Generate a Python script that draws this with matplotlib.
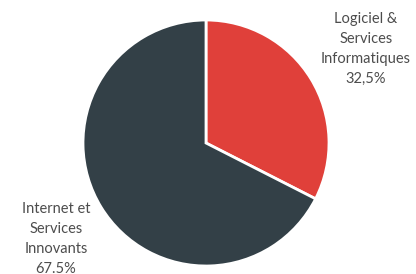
import matplotlib

matplotlib.use("Agg")
import matplotlib.pyplot as plt

labels = ["Logiciel &\nServices\nInformatiques\n32,5%", "Internet et\nServices\nInnovants\n67.5%"]
shares = [32.5, 67.5]
colors = ["#e0403a", "#334047"]

plt.rcParams["font.family"] = ["Lato", "DejaVu Sans"]

fig = plt.figure(figsize=(4.16, 2.74), dpi=100)
ax = fig.add_axes([0, 0, 1, 1])

ax.pie(
    shares,
    colors=colors,
    startangle=90,
    counterclock=False,
    center=(206, 131),
    radius=123,
    wedgeprops={"edgecolor": "white", "linewidth": 2},
    frame=True,
)
ax.set_xlim(0, 416)
ax.set_ylim(0, 274)
ax.set_aspect("equal")
ax.axis("off")

text_color = "#4d4d4d"
ax.text(366, 225, labels[0], ha="center", va="center", fontsize=10.5,
        color=text_color, linespacing=1.55)
ax.text(56, 35, labels[1], ha="center", va="center", fontsize=10.5,
        color=text_color, linespacing=1.55)

fig.savefig("out.png", dpi=100)
